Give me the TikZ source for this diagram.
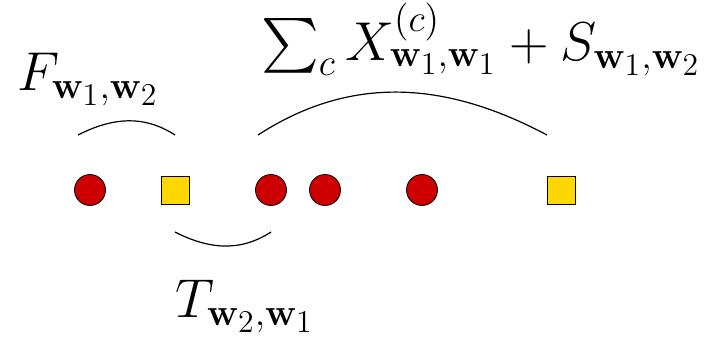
\documentclass[tikz,border=0pt]{standalone}
\usepackage{amsmath}
\usepackage{tikz}
\usetikzlibrary{calc,positioning}
\usepackage{xcolor}
\definecolor{wordred}{HTML}{CC0000}
\definecolor{wordgold}{HTML}{FFD700}
\tikzset{
  redword/.style={circle,draw=black,thin,fill=wordred,minimum size=15.5pt,inner sep=0pt},
  goldword/.style={rectangle,draw=black,thin,fill=wordgold,minimum size=14pt,inner sep=0pt},
  arcline/.style={semithick},
  arclabel/.style={font=\huge,scale=1.32,inner sep=0pt,anchor=base}
}
\begin{document}
\begin{tikzpicture}[x=0.5pt,y=0.5pt]
  \useasboundingbox (0,0) rectangle (705,339);

  % Words
  \node[redword]  (c1) at (90,149) {};
  \node[goldword] (s1) at (175,149) {};
  \node[redword]  (c2) at (271,149) {};
  \node[redword]  (c3) at (325,149) {};
  \node[redword]  (c4) at (422,149) {};
  \node[goldword] (s2) at (561,149) {};

  % Arc ends
  \coordinate (fa) at ($(c1)+(-12,55)$);
  \coordinate (fb) at ($(s1)+(0,55)$);
  \coordinate (xa) at ($(c2)+(-13,55)$);
  \coordinate (xb) at ($(s2)+(-14,55)$);
  \coordinate (ta) at ($(s1)+(0,-42)$);
  \coordinate (tb) at ($(c2)+(0,-42)$);

  % Arcs
  \draw[arcline] (fa) to[out=27,in=147] (fb);
  \draw[arcline] (xa) to[out=33,in=152] (xb);
  \draw[arcline] (ta) to[out=-27,in=-147] (tb);

  % Labels
  \node[arclabel] (flab) at (88,249) {$F_{\mathbf{w}_1,\mathbf{w}_2}$};
  \node[arclabel] (xlab) at (481,279) {$\sum_c X^{(c)}_{\mathbf{w}_1,\mathbf{w}_1} + S_{\mathbf{w}_1,\mathbf{w}_2}$};
  \node[arclabel] (tlab) at (245,22) {$T_{\mathbf{w}_2,\mathbf{w}_1}$};
\end{tikzpicture}
\end{document}
